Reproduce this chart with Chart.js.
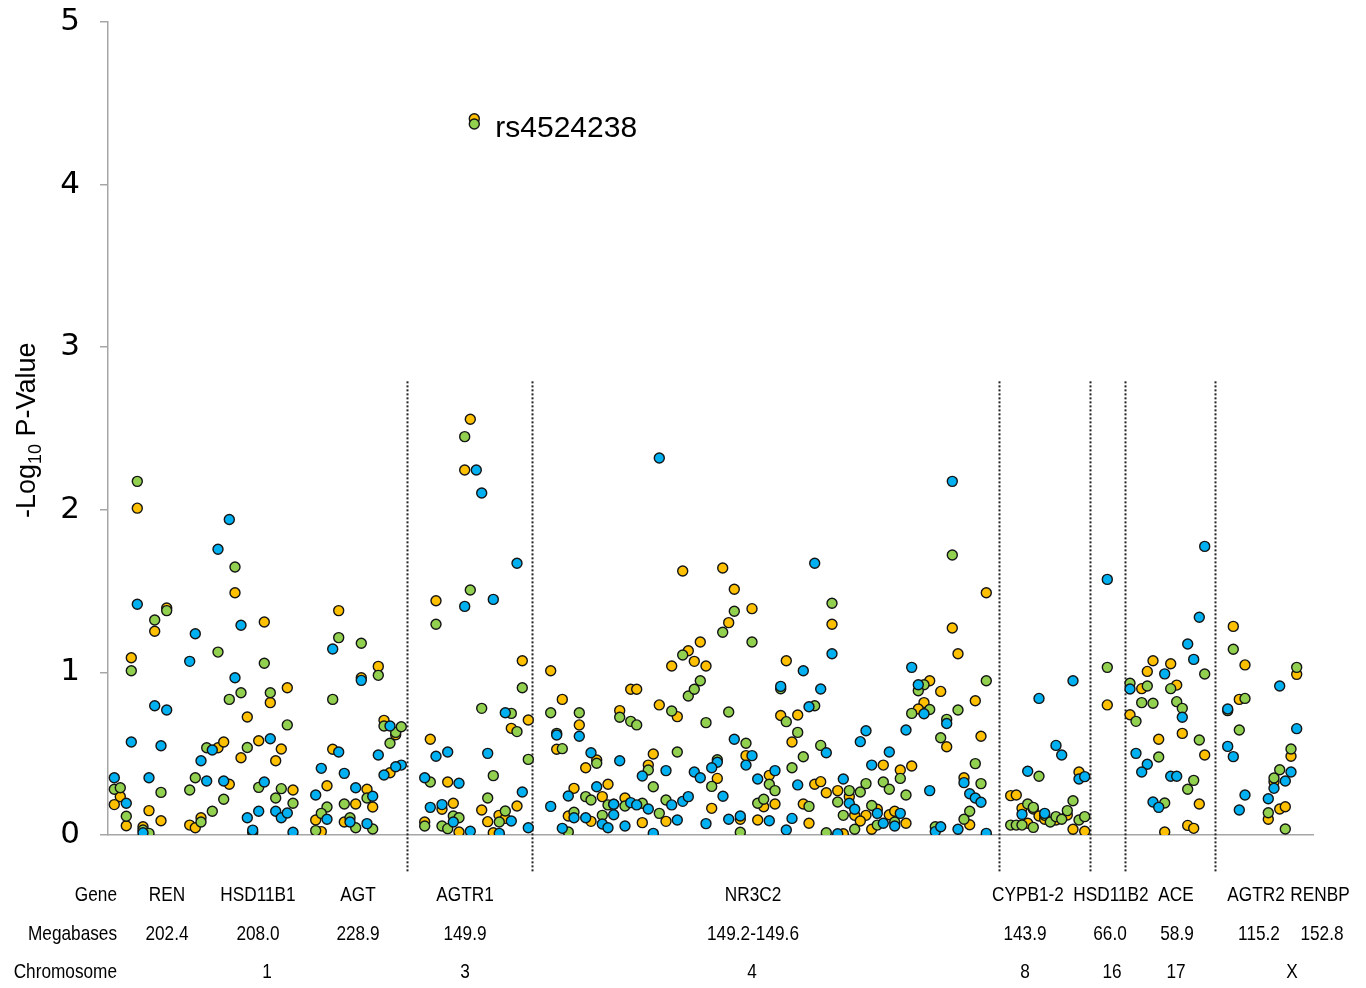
<!DOCTYPE html>
<html>
<head>
<meta charset="utf-8">
<script src="https://cdn.jsdelivr.net/npm/chart.js@4.4.1/dist/chart.umd.min.js"></script>
<style>
html,body{margin:0;padding:0;background:#fff;}
#c{display:block;}
</style>
</head>
<body>
<canvas id="c" width="1366" height="988"></canvas>
<script>
// ---- DATA: [position along the marker axis, -log10 p] ----
const bluePts = [
[121.3,1.94],[110,1.757],[29.3,1.419],[133,1.29],[87.3,1.238],[81.7,1.068],[127,0.967],[46.7,0.795],[58.7,0.769],
[23.3,0.572],[53,0.549],[104.3,0.523],[162.3,0.592],[93,0.457],[6.3,0.352],[18.3,0.195],[41,0.352],[35,0.014],
[98.7,0.332],[115.7,0.332],[139.3,0.106],[150.7,0.146],[144.7,0.03],[156.3,0.326],[167.7,0.146],[173.3,0.106],
[179.3,0.135],[185,0.017],
[224.7,1.144],[253.3,0.951],[282,0.67],[230.7,0.51],[270.3,0.492],[293.3,0.43],[287.7,0.42],[276,0.369],[213.3,0.41],
[236.3,0.379],[207.7,0.246],[247.7,0.291],[264.7,0.238],[219,0.097],[242,0.08],[259,0.07],
[368.3,2.245],[373.7,2.103],[385.3,1.449],[356.7,1.406],[328,0.484],[339.7,0.51],[379.7,0.502],[316.7,0.352],
[351,0.318],[322.3,0.17],[334,0.187],[345.3,0.08],[362.3,0.023],[409,1.671],[397.3,0.752],[414.3,0.264],
[403.3,0.086],[391.3,0.01],[420.3,0.045],
[551.3,2.319],[471.3,0.607],[448.7,0.615],[483,0.506],[511.7,0.457],[534.3,0.363],[558,0.396],[460.3,0.24],
[488.7,0.297],[505.7,0.189],[522.7,0.199],[528.7,0.185],[540.3,0.16],[563.7,0.185],[574.7,0.207],[580.3,0.236],
[442.7,0.176],[466,0.106],[477.7,0.106],[494.3,0.068],[500,0.045],[505.7,0.125],[517,0.055],[569.3,0.092],
[454.3,0.041],[545.3,0.01],
[706.7,1.671],[724,1.115],[695.3,1.01],[712.7,0.898],[672.7,0.914],[701,0.789],[626.3,0.589],[644,0.488],[638,0.43],
[609.3,0.447],[603.7,0.414],[586.3,0.387],[592.3,0.352],[615,0.238],[598,0.07],[620.7,0.097],[632.3,0.117],
[649.7,0.344],[667,0.396],[661.3,0.088],[689.7,0.308],[718.3,0.506],[684,0.102],[678.3,0.031],[729.7,0.008],
[758,0.641],[752.3,0.574],[763.7,0.43],[735.3,0.344],[741.3,0.195],[746.7,0.158],[769.3,0.133],
[844.3,2.175],[803.7,1.031],[810.3,0.924],[816,0.746],[838.7,0.686],[798,0.646],[781.3,0.51],[821.7,0.273],
[856,0.322],[861.7,0.254],[867.3,0.228],[873,0.201],[850,0.035],[878.3,0.01],[775.3,0.072],[792.3,0.133],
[786.7,0.055],[827.3,0.021],[832.7,0.051],
[931,0.84],[948,0.551],[953.7,0.492],[919.7,0.392],[914,0.127],[936.7,0.133],[965,0.949],[971,0.344],[976.7,0.359],
[999.3,1.572],
[1096.7,1.775],[1091.3,1.339],[1079.7,1.175],[1085.7,1.08],[1056.7,0.991],[1022,0.898],[1074.3,0.724],[1028,0.502],
[1039.3,0.435],[1033.7,0.387],[1062.7,0.361],[1068.7,0.361],[1045,0.203],[1050.7,0.17],
[1119.7,0.775],[1119.7,0.545],[1125.3,0.482],[1137,0.246],[1131.3,0.154],[1171.7,0.916],[1188.7,0.654],
[1183,0.387],[1166,0.287],[1177.3,0.332],[1160.3,0.223]
];
const greenPts = [
[29.3,2.175],[127,1.648],[58.7,1.38],[46.7,1.322],[110,1.125],[23.3,1.01],[156.3,1.056],[133,0.875],[121.3,0.834],
[162.3,0.875],[179.3,0.677],[98.7,0.537],[139.3,0.538],[6.3,0.281],[12.3,0.291],[18.3,0.115],[35,0.031],[41,0.01],
[53,0.262],[87.3,0.352],[81.7,0.277],[93,0.08],[104.3,0.146],[115.7,0.22],[144.7,0.017],[150.7,0.293],[167.7,0.228],
[173.3,0.285],[185,0.195],
[230.7,1.214],[253.3,1.179],[270.3,0.982],[224.7,0.834],[276,0.67],[287.7,0.631],[293.3,0.666],[282,0.564],
[259,0.228],[219,0.172],[236.3,0.191],[213.3,0.133],[242,0.106],[247.7,0.045],[264.7,0.037],[207.7,0.027],
[356.7,2.45],[362.3,1.507],[328,1.296],[373.7,0.779],[322.3,0.326],[385.3,0.365],[379.7,0.228],[345.3,0.117],
[351,0.106],[316.7,0.055],[334,0.055],[339.7,0.039],[366.3,4.373],
[414.3,0.906],[403.3,0.748],[409,0.636],[420.3,0.465],[391.3,0.08],[397.3,0.148],
[442.7,0.752],[471.3,0.752],[448.7,0.625],[454.3,0.531],[511.7,0.724],[522.7,0.699],[528.7,0.677],[574.7,1.107],
[563.7,0.763],[580.3,0.855],[569.3,0.51],[488.7,0.441],[540.3,0.4],[545.3,0.297],[477.7,0.236],[483,0.215],
[500,0.185],[505.7,0.189],[517,0.178],[534.3,0.195],[558,0.215],[466,0.14],[494.3,0.121],[551.3,0.133],[460.3,0.018],
[626.3,1.376],[614.7,1.247],[644,1.187],[724,1.425],[592.3,0.949],[586.3,0.896],[672.7,0.899],[620.7,0.756],
[598,0.691],[706.7,0.795],[678.3,0.697],[689.7,0.631],[638,0.564],[609.3,0.463],[603.7,0.299],[632.3,0.017],
[661.3,0.312],[667,0.273],[649.7,0.195],[655.7,0.22],[684,0.414],[695.3,0.481],[712.7,0.551],[701,0.176],
[718.3,0.014],[758,0.316],[741.3,0.273],[752.3,0.264],[729.7,0.203],[735.3,0.121],[746.7,0.035],[763.7,0.181],
[769.3,0.061],
[844.3,1.722],[878.3,0.949],[816,0.924],[810.3,0.887],[821.7,0.772],[803.7,0.748],[850,0.769],[838.7,0.711],
[832.7,0.598],[792.3,0.348],[775.3,0.326],[781.3,0.281],[798,0.246],[867.3,0.439],[873,0.316],[861.7,0.146],
[856,0.097],[786.7,0.08],[827.3,0.051],
[931,0.361],[919.7,0.191],[925.3,0.17],[936.7,0.121],[942.3,0.08],[948,0.113],[953.7,0.097],[959.3,0.15],
[902.7,0.061],[908.3,0.061],[914,0.061],[925.3,0.047],[965,0.211],[971,0.092],[976.7,0.113],
[999.3,1.031],
[1096.7,0.99],[1022,0.933],[1039.3,0.916],[1062.7,0.9],[1033.7,0.814],[1045,0.81],[1068.7,0.82],[1074.3,0.779],
[1028,0.699],[1091.3,0.584],[1050.7,0.48],[1085.7,0.336],[1079.7,0.281],[1056.7,0.197],
[1125.3,1.142],[1137,0.84],[1119.7,0.765],[1131.3,0.646],[1188.7,1.031],[1183,0.529],[1171.7,0.401],
[1166,0.351],[1160.3,0.137],[1177.3,0.037]
];
const orangePts = [
[29.3,2.01],[127,1.49],[58.7,1.396],[46.7,1.253],[156.3,1.31],[23.3,1.09],[162.3,0.814],[179.3,0.906],[139.3,0.726],
[110,0.537],[115.7,0.572],[150.7,0.58],[173.3,0.529],[133,0.475],[167.7,0.457],[12.3,0.236],[6.3,0.187],[18.3,0.057],
[41,0.15],[35,0.051],[53,0.088],[81.7,0.061],[87.3,0.045],[93,0.106],[121.3,0.312],[185,0.277],
[230.7,1.38],[270.3,1.037],[253.3,0.967],[276,0.705],[287.7,0.617],[224.7,0.527],[282,0.383],[219,0.303],
[259,0.281],[264.7,0.172],[247.7,0.191],[207.7,0.092],[236.3,0.08],[213.3,0.021],
[362.3,2.557],[356.7,2.245],[328,1.441],[322.3,0.589],[339.7,0.326],[334,0.158],[345.3,0.195],[373.7,0.154],
[316.7,0.08],[351,0.018],[379.7,0.082],[385.3,0.014],[391,0.121],[366.3,4.405],
[414.3,1.072],[403.3,0.656],[420.3,0.707],[409,0.178],[397.3,0.102],
[574.7,1.624],[442.7,1.01],[454.3,0.834],[471.3,0.677],[448.7,0.527],[511.7,0.765],[522.7,0.896],[528.7,0.896],
[563.7,1.039],[580.3,1.133],[569.3,0.728],[551.3,0.8],[545.3,0.498],[488.7,0.461],[477.7,0.414],[540.3,0.43],
[466,0.287],[500,0.312],[494.3,0.236],[517,0.228],[460.3,0.117],[483,0.084],[534.3,0.076],[558,0.084],
[614.7,1.642],[626.3,1.511],[644,1.392],[620.7,1.306],[724,1.296],[592.3,1.187],[586.3,1.068],[598,1.039],
[678.3,1.072],[672.7,0.735],[689.7,0.738],[684,0.572],[638,0.488],[609.3,0.348],[603.7,0.164],[632.3,0.097],
[661.3,0.367],[655.7,0.174],[667,0.191],[649.7,0.092],[706.7,0.312],[712.7,0.328],[695.3,0.191],[718.3,0.26],
[701,0.072],[735.3,0.008],[729.7,0.273],[741.3,0.236],[746.7,0.121],[758,0.121],[752.3,0.086],[769.3,0.158],
[763.7,0.035],
[878.3,1.49],[844.3,1.273],[850,1.115],[821.7,0.949],[832.7,0.883],[816,0.814],[810.3,0.775],[867.3,0.826],
[838.7,0.543],[873,0.607],[775.3,0.43],[792.3,0.4],[803.7,0.424],[856,0.352],[861.7,0.063],[781.3,0.125],
[786.7,0.146],[798,0.072],
[902.7,0.242],[908.3,0.246],[914,0.164],[925.3,0.16],[931,0.117],[936.7,0.097],[948,0.092],[959.3,0.123],
[919.7,0.072],[971,0.387],[965,0.035],[976.7,0.023],
[999.3,0.8],
[1045,1.072],[1039.3,1.006],[1062.7,1.053],[1033.7,0.9],[1068.7,0.922],[1022,0.74],[1074.3,0.625],[1050.7,0.589],
[1096.7,0.492],[1091.3,0.191],[1079.7,0.059],[1085.7,0.041],[1056.7,0.018],
[1125.3,1.283],[1137,1.046],[1131.3,0.834],[1188.7,0.988],[1183,0.484],[1166,0.328],[1160.3,0.097],
[1171.7,0.16],[1177.3,0.174]
];
const yTicks = [0, 1, 2, 3, 4, 5];
const regionBreaks = [298.5, 423.5, 891, 982, 1016.5, 1107];
const genes = ["REN", "HSD11B1", "AGT", "AGTR1", "NR3C2", "CYPB1-2", "HSD11B2", "ACE", "AGTR2", "RENBP"];
const megabases = ["202.4", "208.0", "228.9", "149.9", "149.2-149.6", "143.9", "66.0", "58.9", "115.2", "152.8"];
const chromosomes = ["1", "3", "4", "8", "16", "17", "X"];
const rowTitles = ["Gene", "Megabases", "Chromosome"];
const topSnp = "rs4524238";

// ---- label placement along the marker axis ----
const genePos = [59, 150, 250, 357, 645, 920, 1003, 1068, 1148, 1212];
const megaPos = [59, 150, 250, 357, 645, 917, 1002, 1069, 1151, 1214];
const chromPos = [159, 357, 644, 917, 1004, 1068, 1184];

const toXY = a => a.map(p => ({x: p[0], y: p[1]}));
const ds = (pts, col) => ({
  data: toXY(pts), backgroundColor: col, borderColor: '#141414', borderWidth: 1.4,
  pointRadius: 5, pointHoverRadius: 5
});

const annot = {
  id: 'annot',
  beforeDatasetsDraw(chart) {
    const {ctx, scales: {x, y}} = chart;
    ctx.save();
    ctx.strokeStyle = '#222';
    ctx.lineWidth = 2;
    ctx.setLineDash([2, 2]);
    regionBreaks.forEach(b => {
      const px = Math.round(x.getPixelForValue(b)) + 0.5;
      ctx.beginPath();
      ctx.moveTo(px, y.getPixelForValue(2.79));
      ctx.lineTo(px, y.getPixelForValue(-0.23));
      ctx.stroke();
    });
    ctx.restore();
  },
  afterDraw(chart) {
    const {ctx, scales: {x, y}, chartArea} = chart;
    ctx.save();
    // y axis title with subscript
    ctx.fillStyle = '#000';
    ctx.translate(35, 518);
    ctx.rotate(-Math.PI / 2);
    ctx.textAlign = 'left';
    ctx.textBaseline = 'alphabetic';
    ctx.font = '27px "Liberation Sans", Arial, sans-serif';
    let w = ctx.measureText('-Log').width;
    ctx.fillText('-Log', 0, 0);
    ctx.font = '18px "Liberation Sans", Arial, sans-serif';
    ctx.fillText('10', w, 6);
    w += ctx.measureText('10').width;
    ctx.font = '27px "Liberation Sans", Arial, sans-serif';
    ctx.fillText(' P-Value', w, 0);
    ctx.restore();

    // top SNP label
    ctx.save();
    const top = orangePts.reduce((a, b) => (b[1] > a[1] ? b : a));
    ctx.font = '30px "Liberation Sans", Arial, sans-serif';
    ctx.fillStyle = '#000';
    ctx.textAlign = 'left';
    ctx.textBaseline = 'middle';
    ctx.fillText(topSnp, x.getPixelForValue(top[0]) + 21, y.getPixelForValue(top[1]) + 10);
    ctx.restore();

    // bottom table
    const rowsY = [895, 934, 972];
    const sx = 0.82;
    const drawNarrow = (txt, cx, cy, align) => {
      ctx.save();
      ctx.translate(cx, cy);
      ctx.scale(sx, 1);
      ctx.textAlign = align;
      ctx.fillText(txt, 0, 0);
      ctx.restore();
    };
    ctx.save();
    ctx.font = '21px "Liberation Sans", Arial, sans-serif';
    ctx.fillStyle = '#000';
    ctx.textBaseline = 'middle';
    rowTitles.forEach((t, i) => drawNarrow(t, chartArea.left + 9, rowsY[i], 'right'));
    genes.forEach((g, i) => drawNarrow(g, x.getPixelForValue(genePos[i]), rowsY[0], 'center'));
    megabases.forEach((g, i) => drawNarrow(g, x.getPixelForValue(megaPos[i]), rowsY[1], 'center'));
    chromosomes.forEach((g, i) => drawNarrow(g, x.getPixelForValue(chromPos[i]), rowsY[2], 'center'));
    ctx.restore();
  }
};

new Chart(document.getElementById('c'), {
  type: 'scatter',
  data: {
    datasets: [ds(bluePts, '#00b0f0'), ds(greenPts, '#92d050'), ds(orangePts, '#ffc000')]
  },
  options: {
    responsive: false,
    animation: false,
    devicePixelRatio: 1,
    layout: {padding: {left: 0, right: 53, top: 22, bottom: 153}},
    plugins: {legend: {display: false}, tooltip: {enabled: false}},
    scales: {
      x: {
        type: 'linear', min: 0, max: 1205,
        ticks: {display: false},
        grid: {display: false},
        border: {display: true, color: '#a6a6a6', width: 1.5},
        afterFit: s => { s.height = 0; s.paddingLeft = 0; s.paddingRight = 0; }
      },
      y: {
        min: 0, max: 5,
        afterBuildTicks: s => { s.ticks = yTicks.map(v => ({value: v})); },
        ticks: {color: '#000', padding: 20, font: {family: '"DejaVu Sans", sans-serif', size: 31}},
        grid: {display: true, drawOnChartArea: false, drawTicks: true, tickLength: 8, color: '#a6a6a6', lineWidth: 1.5},
        border: {display: true, color: '#a6a6a6', width: 1.5},
        afterFit: s => { s.width = 108; s.paddingTop = 0; s.paddingBottom = 0; }
      }
    }
  },
  plugins: [annot]
});
</script>
</body>
</html>
